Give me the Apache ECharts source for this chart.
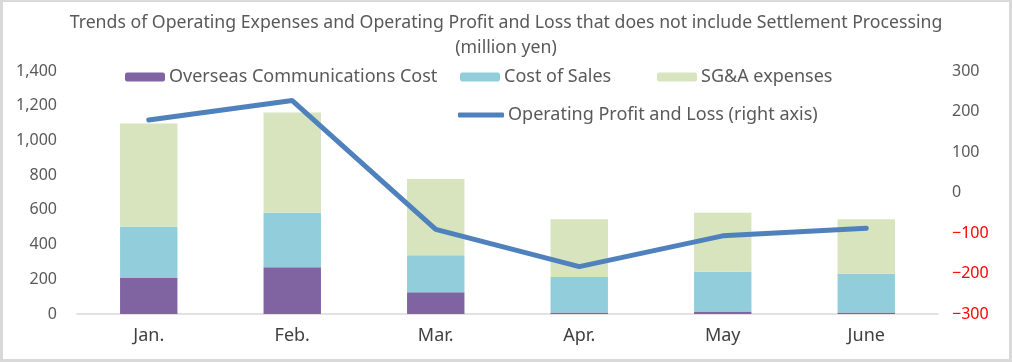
<!DOCTYPE html>
<html><head><meta charset="utf-8">
<script src="https://cdn.jsdelivr.net/npm/echarts@6/dist/echarts.min.js"></script>
<style>
html,body{margin:0;padding:0;background:#d9d9d9;}
#wrap{position:absolute;left:0;top:0;width:1012px;height:362px;background:#d9d9d9;}
#c{position:absolute;left:3px;top:2px;width:1006px;height:357px;background:#fff;}
</style></head>
<body><div id="wrap"><div id="c"></div></div>
<script>
const categories = ['Jan.', 'Feb.', 'Mar.', 'Apr.', 'May', 'June'];
const overseasCost = [207, 270, 126, 8, 15, 8];
const costOfSales = [296, 314, 213, 205, 228, 224];
const sgaExpenses = [595, 577, 439, 333, 341, 314];
const operatingPL = [179, 227, -91, -183, -107, -88];
const leftTicks = {min: 0, max: 1400, interval: 200};
const rightTicks = {min: -300, max: 300, interval: 100};

const FONT = 'Noto Sans';
const chart = echarts.init(document.getElementById('c'));
const legendText = {color: '#595959', fontSize: 18, fontFamily: FONT, padding: [0, 0, 0, -1]};
chart.setOption({
  animation: false,
  title: {
    text: 'Trends of Operating Expenses and Operating Profit and Loss that does not include Settlement Processing\n(million yen)',
    left: 'center', top: 3,
    textStyle: {color: '#595959', fontSize: 17.7, fontWeight: 'normal', fontFamily: FONT, lineHeight: 25}
  },
  legend: [
    {data: ['Overseas Communications Cost'], left: 117, top: 61, itemWidth: 40, itemHeight: 9, textStyle: legendText},
    {data: ['Cost of Sales'], left: 452, top: 61, itemWidth: 40, itemHeight: 9, textStyle: legendText},
    {data: ['SG&A expenses'], left: 649, top: 61, itemWidth: 40, itemHeight: 9, textStyle: legendText},
    {data: [{name: 'Operating Profit and Loss (right axis)', icon: 'roundRect'}], left: 450, top: 99,
     itemWidth: 46, itemHeight: 5, textStyle: legendText}
  ],
  grid: {left: 74, right: 71, top: 69, bottom: 45},
  xAxis: {
    type: 'category', data: categories,
    axisLine: {lineStyle: {color: '#d9d9d9', width: 1.5}},
    axisTick: {show: false},
    axisLabel: {color: '#404040', fontSize: 18, fontFamily: FONT, margin: 13}
  },
  yAxis: [
    {type: 'value', min: leftTicks.min, max: leftTicks.max, interval: leftTicks.interval,
     splitLine: {show: false}, axisLine: {show: false}, axisTick: {show: false},
     axisLabel: {color: '#595959', fontSize: 16, fontFamily: FONT, margin: 20,
       formatter: v => v.toLocaleString('en-US')}},
    {type: 'value', min: rightTicks.min, max: rightTicks.max, interval: rightTicks.interval,
     splitLine: {show: false}, axisLine: {show: false}, axisTick: {show: false},
     axisLabel: {fontSize: 16, fontFamily: FONT, margin: 14,
       color: v => (Number(v) < 0 ? '#ff0000' : '#595959'),
       formatter: v => (v < 0 ? '\u2212' + Math.abs(v) : String(v))}}
  ],
  series: [
    {name: 'Overseas Communications Cost', type: 'bar', stack: 'e', data: overseasCost, barWidth: '40%',
     itemStyle: {color: '#8064A2'}},
    {name: 'Cost of Sales', type: 'bar', stack: 'e', data: costOfSales, itemStyle: {color: '#92CDDC'}},
    {name: 'SG&A expenses', type: 'bar', stack: 'e', data: sgaExpenses, itemStyle: {color: '#D7E4BD'}},
    {name: 'Operating Profit and Loss (right axis)', type: 'line', yAxisIndex: 1, data: operatingPL,
     symbol: 'none', lineStyle: {color: '#4F81BD', width: 5, cap: 'round'}, itemStyle: {color: '#4F81BD'}, z: 5}
  ]
});
</script></body></html>
